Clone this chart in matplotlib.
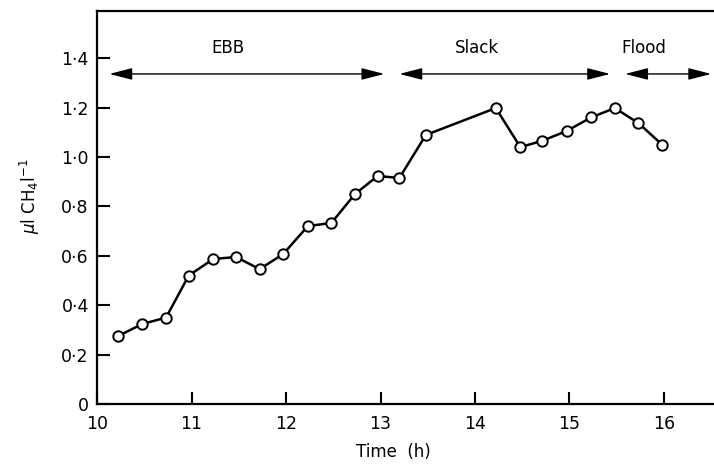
import matplotlib.pyplot as plt
from matplotlib.patches import FancyArrowPatch

# methane concentration over the tidal cycle
time_h = [10.22, 10.48, 10.73, 10.97, 11.23, 11.47, 11.72, 11.97, 12.23, 12.48, 12.73,
          12.97, 13.2, 13.48, 14.22, 14.48, 14.71, 14.97, 15.23, 15.48, 15.73, 15.98]
ch4 = [0.275, 0.324, 0.35, 0.52, 0.587, 0.595, 0.546, 0.607, 0.72, 0.733, 0.85,
       0.923, 0.915, 1.089, 1.198, 1.04, 1.065, 1.105, 1.16, 1.198, 1.137, 1.05]

# tide phases: name, start, end, label x
phases = [('EBB', 10.1, 13.07, 11.39),
          ('Slack', 13.17, 15.46, 14.02),
          ('Flood', 15.56, 16.53, 15.79)]
arrow_y = 1.336
label_y = 1.44

yticks = [0, 0.2, 0.4, 0.6, 0.8, 1.0, 1.2, 1.4]
ytick_labels = ['0', '0·2', '0·4', '0·6', '0·8', '1·0', '1·2', '1·4']
xticks = [10, 11, 12, 13, 14, 15, 16]

fig = plt.figure(figsize=(7.14, 4.66), dpi=100)
ax = fig.add_axes([0.136, 0.133, 0.864, 0.843])

ax.plot(time_h, ch4, color='black', lw=1.8, marker='o', ms=7.5,
        mfc='white', mec='black', mew=1.4)

for name, x0, x1, xl in phases:
    arr = FancyArrowPatch((x0, arrow_y), (x1, arrow_y),
                          arrowstyle='<|-|>,head_length=0.7,head_width=0.18',
                          color='black', lw=1.0, mutation_scale=20, clip_on=False)
    ax.add_patch(arr)
    ax.text(xl, label_y, name, ha='center', va='center', fontsize=12)

ax.set_xlim(10, 16.53)
ax.set_ylim(0, 1.59)
ax.set_xticks(xticks)
ax.set_yticks(yticks)
ax.set_yticklabels(ytick_labels)
ax.tick_params(direction='in', length=9, width=1.5, labelsize=12.5)
ax.tick_params(axis='x', pad=8)
ax.tick_params(axis='y', pad=6)
ax.spines['right'].set_visible(False)
for s in ['left', 'bottom', 'top']:
    ax.spines[s].set_linewidth(1.6)

ax.set_xlabel('Time  (h)', fontsize=12)
ax.xaxis.set_label_coords(0.48, -0.1)
ax.set_ylabel(r'$\mu$l CH$_4$l$^{-1}$', fontsize=12)
ax.yaxis.set_label_coords(-0.09, 0.53)

fig.savefig('out.png', dpi=100)
